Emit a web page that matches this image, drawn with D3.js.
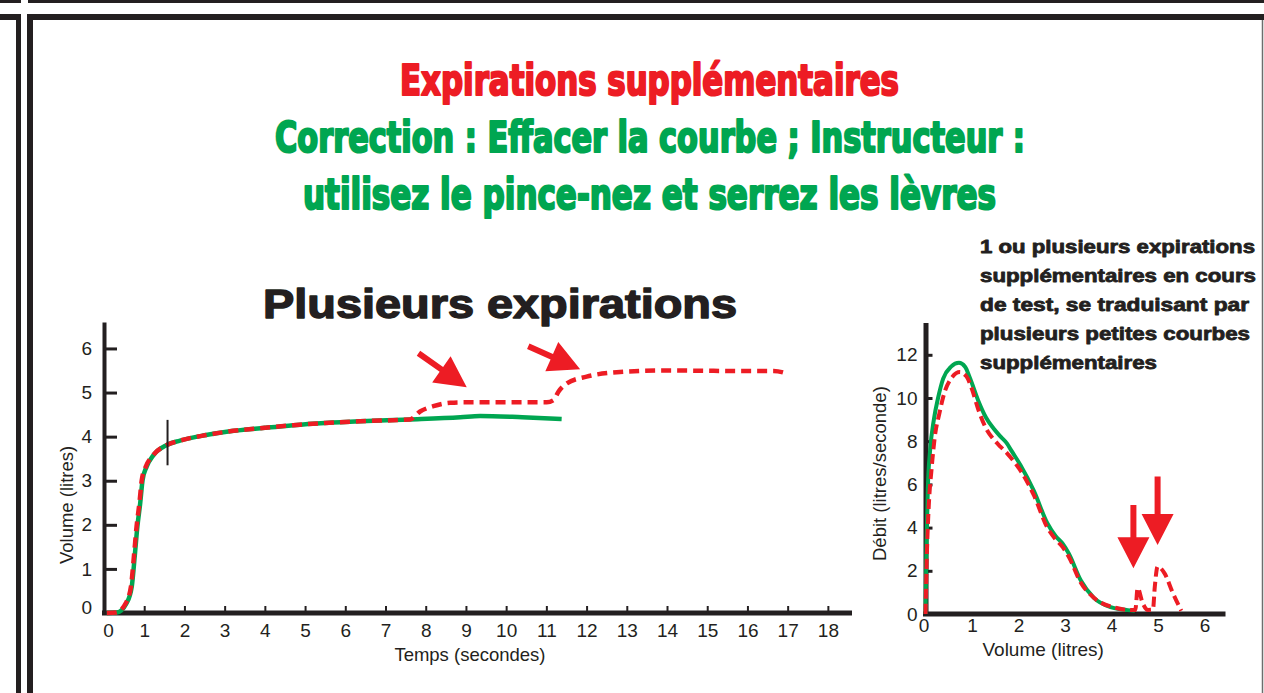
<!DOCTYPE html>
<html>
<head>
<meta charset="utf-8">
<script src="https://cdn.jsdelivr.net/npm/d3@7/dist/d3.min.js"></script>
<style>
  body { margin: 0; background: #fff; }
  svg { display: block; font-family: 'Liberation Sans', Arial, sans-serif; }
</style>
</head>
<body>
<div id="wrapper"></div>
<script>
/* global d3 */

/* DATA */
// volume-time chart (seconds, litres)
const timeGreen = [0.07, 0.32, 0.56, 0.69, 0.77, 0.83, 0.9, 0.96, 1.06, 1.23, 1.56, 1.89, 2.5, 3.05, 4.0, 4.71, 5.5, 6.37, 7.61, 8.86, 9.35, 10.4, 11.38];
const volGreen = [0, 0.01, 0.22, 0.6, 1.35, 1.96, 2.49, 3.02, 3.32, 3.58, 3.81, 3.91, 4.03, 4.11, 4.2, 4.26, 4.31, 4.35, 4.39, 4.44, 4.47, 4.44, 4.4];
const timeRed = [0.07, 0.3, 0.54, 0.67, 0.75, 0.81, 0.88, 0.94, 1.04, 1.22, 1.56, 1.89, 2.5, 3.05, 4.0, 4.71, 5.5, 6.37, 7.61, 7.86, 8.19, 8.61, 9.02, 11.01, 11.18, 11.3, 11.51, 12.0, 12.75, 14.0, 15.65, 16.65, 17.02];
const volRed = [0, 0.01, 0.22, 0.6, 1.35, 1.96, 2.49, 3.02, 3.32, 3.58, 3.81, 3.91, 4.03, 4.11, 4.2, 4.26, 4.31, 4.35, 4.39, 4.57, 4.69, 4.77, 4.78, 4.78, 4.83, 5.02, 5.21, 5.36, 5.46, 5.5, 5.49, 5.49, 5.42];
const timeTicks = d3.range(0, 19);
const volTicks = [0, 1, 2, 3, 4, 5, 6];
const markerTime = 1.58;
const markerVol = [3.35, 4.38];
// arrows: [tail time, tail vol, tip time, tip vol]
const volArrows = [[7.82, 5.89, 9.02, 5.12], [10.55, 6.05, 11.84, 5.53]];

// flow-volume chart (litres, litres/second)
const loopVolGreen = [0, 0.02, 0.05, 0.1, 0.18, 0.27, 0.38, 0.55, 0.72, 0.85, 0.96, 1.13, 1.3, 1.46, 1.62, 1.75, 1.85, 2.04, 2.33, 2.62, 2.8, 2.95, 3.08, 3.34, 3.62, 3.98, 4.35, 4.5];
const loopFlowGreen = [0, 3.0, 5.8, 7.6, 9.0, 10.0, 10.9, 11.45, 11.63, 11.45, 10.9, 9.9, 9.1, 8.6, 8.2, 7.9, 7.55, 6.9, 5.7, 4.2, 3.6, 3.25, 2.8, 1.55, 0.75, 0.32, 0.18, 0.15];
const loopVolRed = [0, 0.03, 0.07, 0.13, 0.2, 0.3, 0.4, 0.55, 0.74, 0.88, 1.0, 1.13, 1.3, 1.46, 1.61, 1.75, 1.85, 2.04, 2.33, 2.62, 2.8, 2.95, 3.08, 3.34, 3.62, 4.06, 4.35, 4.5, 4.52, 4.56, 4.67, 4.78, 4.89, 4.93, 4.99, 5.14, 5.32, 5.5];
const loopFlowRed = [0, 2.8, 5.0, 6.7, 8.2, 9.3, 10.2, 10.9, 11.2, 11.0, 10.4, 9.5, 8.6, 8.1, 7.75, 7.45, 7.2, 6.65, 5.5, 4.0, 3.45, 3.1, 2.65, 1.45, 0.75, 0.3, 0.19, 0.18, 0.3, 1.2, 0.5, 0.19, 0.2, 1.26, 2.2, 1.88, 0.96, 0.15];
const loopVolTicks = [0, 1, 2, 3, 4, 5, 6];
const flowTicks = [0, 2, 4, 6, 8, 10, 12];
// arrows: [volume, tail flow, tip flow]
const flowArrows = [[4.47, 5.05, 2.12], [4.99, 6.36, 3.19]];

const titleLines = ['Expirations supplémentaires', 'Correction : Effacer la courbe ; Instructeur :', 'utilisez le pince-nez et serrez les lèvres'];
const noteLines = ['1 ou plusieurs expirations', 'supplémentaires en cours', 'de test, se traduisant par', 'plusieurs petites courbes', 'supplémentaires'];

const RED = '#ED1C24';
const GREEN = '#00A651';
const INK = '#231F20';

/* CANVAS */
const width = 1264;
const height = 693;
const svg = d3.select('#wrapper').append('svg')
  .attr('width', width)
  .attr('height', height);

svg.append('rect').attr('width', width).attr('height', height).attr('fill', '#fff');

// page frame
const frame = svg.append('g').attr('fill', INK);
frame.append('rect').attr('x', 0).attr('y', 0).attr('width', 21).attr('height', 3);
frame.append('rect').attr('x', 28).attr('y', 0).attr('width', width - 28).attr('height', 3);
frame.append('rect').attr('x', 0).attr('y', 14).attr('width', 21).attr('height', 6);
frame.append('rect').attr('x', 16).attr('y', 14).attr('width', 5).attr('height', height - 14);
frame.append('rect').attr('x', 27).attr('y', 14).attr('width', width - 27).attr('height', 6);
frame.append('rect').attr('x', 27).attr('y', 14).attr('width', 6).attr('height', height - 14);
svg.append('line')
  .attr('x1', 1262.5).attr('x2', 1262.5).attr('y1', 20).attr('y2', height)
  .attr('stroke', '#6d6d6d').attr('stroke-width', 1.5);

/* TITLES */
const titleFits = [[400, 899, 95, RED], [275, 1025, 152, GREEN], [303, 996, 209, GREEN]];
svg.append('g').selectAll('text')
  .data(titleLines)
  .join('text')
  .attr('x', (d, i) => titleFits[i][0])
  .attr('y', (d, i) => titleFits[i][2])
  .attr('textLength', (d, i) => titleFits[i][1] - titleFits[i][0])
  .attr('lengthAdjust', 'spacingAndGlyphs')
  .attr('fill', (d, i) => titleFits[i][3])
  .attr('stroke', (d, i) => titleFits[i][3])
  .attr('stroke-width', 2.2)
  .attr('stroke-linejoin', 'round')
  .style('font-family', "'Liberation Sans Narrow', 'DejaVu Sans Condensed', sans-serif")
  .style('font-weight', 700)
  .style('font-size', '43px')
  .text(d => d);

svg.append('text')
  .attr('x', 263)
  .attr('y', 318)
  .attr('textLength', 474)
  .attr('lengthAdjust', 'spacingAndGlyphs')
  .attr('fill', INK)
  .attr('stroke', INK)
  .attr('stroke-width', 1.4)
  .attr('stroke-linejoin', 'round')
  .style('font-weight', 900)
  .style('font-size', '40px')
  .text('Plusieurs expirations');

const noteFits = [275, 276, 269, 270, 177];
svg.append('g').selectAll('text')
  .data(noteLines)
  .join('text')
  .attr('x', 980)
  .attr('y', (d, i) => 253 + i * 29)
  .attr('textLength', (d, i) => noteFits[i])
  .attr('lengthAdjust', 'spacingAndGlyphs')
  .attr('fill', INK)
  .attr('stroke', INK)
  .attr('stroke-width', 0.8)
  .attr('stroke-linejoin', 'round')
  .style('font-weight', 700)
  .style('font-size', '18.5px')
  .text(d => d);

/* HELPERS */
function arrowPath(x1, y1, x2, y2) {
  const len = Math.hypot(x2 - x1, y2 - y1);
  const ux = (x2 - x1) / len;
  const uy = (y2 - y1) / len;
  const nx = -uy;
  const ny = ux;
  const head = 31;
  const hw = 16;
  const sw = 3;
  const bx = x2 - ux * head;
  const by = y2 - uy * head;
  return d3.line()([
    [x1 + nx * sw, y1 + ny * sw],
    [bx + nx * sw, by + ny * sw],
    [bx + nx * hw, by + ny * hw],
    [x2, y2],
    [bx - nx * hw, by - ny * hw],
    [bx - nx * sw, by - ny * sw],
    [x1 - nx * sw, y1 - ny * sw],
  ]) + 'Z';
}

function styleAxis(g, domainWidth, tickWidth) {
  g.attr('font-size', 19)
    .attr('font-family', "'Liberation Sans', Arial, sans-serif");
  g.select('.domain').attr('stroke', INK).attr('stroke-width', domainWidth);
  g.selectAll('.tick line').attr('stroke', INK).attr('stroke-width', tickWidth);
  g.selectAll('.tick text').attr('fill', INK);
}

const intFormat = d3.format('d');

/* VOLUME-TIME CHART */
const xTime = d3.scaleLinear().domain([0, 18.6]).range([104, 852]);
const yVol = d3.scaleLinear().domain([0, 6.6]).range([613, 322]);

const yAxisL = svg.append('g')
  .attr('transform', `translate(${xTime(0)},0)`)
  .call(d3.axisLeft(yVol).tickValues(volTicks).tickFormat(intFormat)
    .tickSizeInner(-13).tickSizeOuter(0).tickPadding(12));
styleAxis(yAxisL, 4, 3);
yAxisL.selectAll('.tick').filter(d => d === 0).select('line').remove();
yAxisL.selectAll('.tick text').filter(d => d === 0).attr('dy', '0.0em');

const xAxisL = svg.append('g')
  .attr('transform', `translate(0,${yVol(0)})`)
  .call(d3.axisBottom(xTime).tickValues(timeTicks).tickFormat(intFormat)
    .tickSizeInner(-7).tickSizeOuter(0).tickPadding(11));
styleAxis(xAxisL, 5, 2);
xAxisL.select('.domain').attr('d', `M${xTime(0) - 2},0H${xTime(18.6)}`);
xAxisL.selectAll('.tick text').filter(d => d === 0).attr('dx', 4);

svg.append('text')
  .attr('x', xTime(9.1))
  .attr('y', 661)
  .attr('text-anchor', 'middle')
  .attr('fill', INK)
  .style('font-size', '18.5px')
  .text('Temps (secondes)');

svg.append('text')
  .attr('transform', `translate(73,${yVol(2.45)}) rotate(-90)`)
  .attr('text-anchor', 'middle')
  .attr('fill', INK)
  .style('font-size', '18.5px')
  .text('Volume (litres)');

const volLine = d3.line()
  .x(d => xTime(d[0]))
  .y(d => yVol(d[1]))
  .curve(d3.curveMonotoneX);

svg.append('path')
  .datum(d3.zip(timeGreen, volGreen))
  .attr('d', volLine)
  .attr('fill', 'none')
  .attr('stroke', GREEN)
  .attr('stroke-width', 4.5);

svg.append('path')
  .datum(d3.zip(timeRed, volRed))
  .attr('d', volLine)
  .attr('fill', 'none')
  .attr('stroke', RED)
  .attr('stroke-width', 4.5)
  .attr('stroke-dasharray', '10,6');

svg.append('line')
  .attr('x1', xTime(markerTime))
  .attr('x2', xTime(markerTime))
  .attr('y1', yVol(markerVol[0]))
  .attr('y2', yVol(markerVol[1]))
  .attr('stroke', INK)
  .attr('stroke-width', 2);

svg.append('g').selectAll('path')
  .data(volArrows)
  .join('path')
  .attr('d', d => arrowPath(xTime(d[0]), yVol(d[1]), xTime(d[2]), yVol(d[3])))
  .attr('fill', RED);

/* FLOW-VOLUME CHART */
const xLoop = d3.scaleLinear().domain([0, 6.45]).range([925.5, 1225.5]);
const yFlow = d3.scaleLinear().domain([0, 13.5]).range([614, 322.4]);

const yAxisR = svg.append('g')
  .attr('transform', `translate(${xLoop(0)},0)`)
  .call(d3.axisLeft(yFlow).tickValues(flowTicks).tickFormat(intFormat)
    .tickSizeInner(-7).tickSizeOuter(0).tickPadding(8));
styleAxis(yAxisR, 5, 3);
yAxisR.selectAll('.tick').filter(d => d === 0).select('line').remove();

const xAxisR = svg.append('g')
  .attr('transform', `translate(0,${yFlow(0)})`)
  .call(d3.axisBottom(xLoop).tickValues(loopVolTicks).tickFormat(intFormat)
    .tickSizeInner(0).tickSizeOuter(0).tickPadding(5));
styleAxis(xAxisR, 5, 0);
xAxisR.select('.domain').attr('d', `M${xLoop(0) - 2.5},0H${xLoop(6.45)}`);
xAxisR.selectAll('.tick text').filter(d => d === 0).attr('dx', -2);

svg.append('text')
  .attr('x', xLoop(2.53))
  .attr('y', 656)
  .attr('text-anchor', 'middle')
  .attr('fill', INK)
  .style('font-size', '19px')
  .text('Volume (litres)');

svg.append('text')
  .attr('transform', `translate(886,${yFlow(6.5)}) rotate(-90)`)
  .attr('text-anchor', 'middle')
  .attr('fill', INK)
  .style('font-size', '18.5px')
  .text('Débit (litres/seconde)');

const loopLine = d3.line()
  .x(d => xLoop(d[0]))
  .y(d => yFlow(d[1]))
  .curve(d3.curveMonotoneX);

svg.append('path')
  .datum(d3.zip(loopVolGreen, loopFlowGreen))
  .attr('d', loopLine)
  .attr('fill', 'none')
  .attr('stroke', GREEN)
  .attr('stroke-width', 4);

svg.append('path')
  .datum(d3.zip(loopVolRed, loopFlowRed))
  .attr('d', loopLine)
  .attr('fill', 'none')
  .attr('stroke', RED)
  .attr('stroke-width', 4)
  .attr('stroke-dasharray', '10,5');

svg.append('g').selectAll('path')
  .data(flowArrows)
  .join('path')
  .attr('d', d => arrowPath(xLoop(d[0]), yFlow(d[1]), xLoop(d[0]), yFlow(d[2])))
  .attr('fill', RED);
</script>
</body>
</html>
